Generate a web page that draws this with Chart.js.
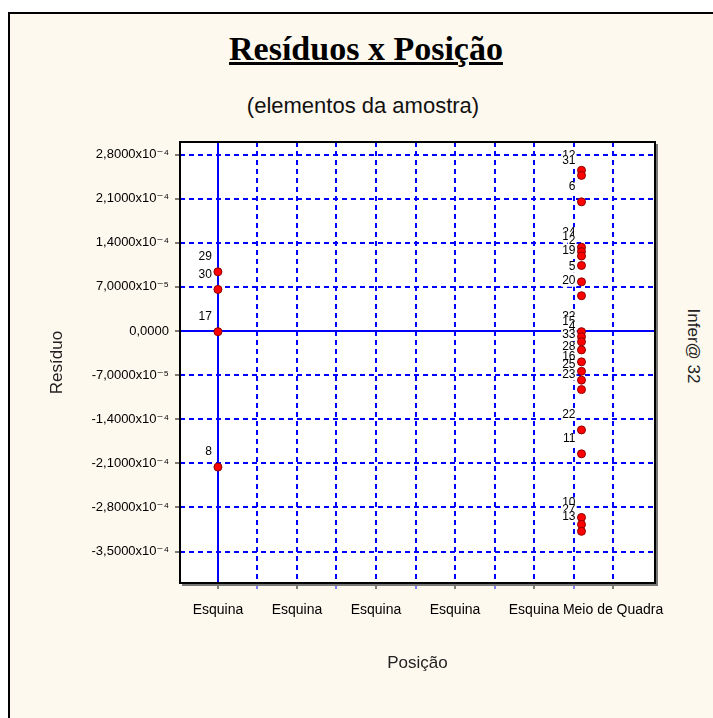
<!DOCTYPE html>
<html lang="pt-BR">
<head>
<meta charset="utf-8">
<title>Resíduos x Posição</title>
<script src="https://cdn.jsdelivr.net/npm/chart.js@4.4.1/dist/chart.umd.min.js"></script>
<style>
    html, body { margin: 0; padding: 0; background: #fff; }
    body { width: 713px; height: 718px; position: relative; overflow: hidden; font-family: Arial, 'Liberation Sans', sans-serif; }
    #moldura { position: absolute; left: 8px; top: 12px; width: 730px; height: 730px; background: #fef9ee; border-left: 2px solid #000; border-top: 2px solid #000; }
    #titulo { position: absolute; left: 0; width: 732px; top: 30px; text-align: center; font: bold 34px 'Liberation Serif', 'Times New Roman', serif; text-decoration: underline; }
    #subtitulo { position: absolute; left: 0; width: 726px; top: 93px; text-align: center; font-size: 22px; color: #111; }
    #lateral { position: absolute; left: 693px; top: 346px; transform: translate(-50%, -50%) rotate(90deg); font-size: 17px; color: #222; white-space: nowrap; }
    #grafico { position: absolute; left: 0; top: 0; }
</style>
</head>
<body>
<div id="moldura"></div>
<div id="titulo">Resíduos x Posição</div>
<div id="subtitulo">(elementos da amostra)</div>
<div id="lateral">Infer@ 32</div>
<canvas id="grafico" width="713" height="718"></canvas>

<script>
// categorias do eixo X (uma por marca inteira)
const categorias = ['Esquina', 'Esquina', 'Esquina', 'Esquina', 'Esquina', 'Meio de Quadra'];

// marcas e rótulos do eixo Y
const ticksY = [2.8e-4, 2.1e-4, 1.4e-4, 7e-5, 0, -7e-5, -1.4e-4, -2.1e-4, -2.8e-4, -3.5e-4];
const rotulosY = ['2,8000x10⁻⁴', '2,1000x10⁻⁴', '1,4000x10⁻⁴', '7,0000x10⁻⁵', '0,0000',
                  '-7,0000x10⁻⁵', '-1,4000x10⁻⁴', '-2,1000x10⁻⁴', '-2,8000x10⁻⁴', '-3,5000x10⁻⁴'];

// elementos da amostra
const elementos = ['29', '30', '17', '8',
                   '12', '31', '6', '24', '14', '2', '19', '5', '20',
                   '32', '15', '4', '33', '28', '16', '25', '23', '22', '11', '10', '27', '13'];
const posicao = [0, 0, 0, 0,
                 4.6, 4.6, 4.6, 4.6, 4.6, 4.6, 4.6, 4.6, 4.6,
                 4.6, 4.6, 4.6, 4.6, 4.6, 4.6, 4.6, 4.6, 4.6, 4.6, 4.6, 4.6, 4.6];
const residuos = [9.4e-5, 6.6e-5, -1e-6, -2.16e-4,
                  2.55e-4, 2.47e-4, 2.05e-4, 1.33e-4, 1.26e-4, 1.19e-4, 1.04e-4, 7.8e-5, 5.6e-5,
                  -1e-6, -9e-6, -1.7e-5, -3.0e-5, -4.9e-5, -6.4e-5, -7.8e-5, -9.3e-5,
                  -1.57e-4, -1.95e-4, -2.96e-4, -3.07e-4, -3.18e-4];

document.addEventListener('DOMContentLoaded', function() {
    iniciarGrafico();
});

// fundo branco e moldura da área de plotagem
const moldura = {
    id: 'moldura',
    beforeDraw(chart) {
        const a = chart.chartArea, ctx = chart.ctx;
        ctx.save();
        ctx.fillStyle = '#ffffff';
        ctx.fillRect(a.left, a.top, a.right - a.left, a.bottom - a.top);
        ctx.restore();
    },
    afterDraw(chart) {
        const a = chart.chartArea, ctx = chart.ctx;
        ctx.save();
        ctx.strokeStyle = '#000';
        ctx.lineWidth = 2;
        ctx.strokeRect(a.left, a.top, a.right - a.left, a.bottom - a.top);
        ctx.strokeStyle = '#777';
        ctx.beginPath();
        ctx.moveTo(a.right + 2, a.top + 2);
        ctx.lineTo(a.right + 2, a.bottom + 2);
        ctx.lineTo(a.left + 2, a.bottom + 2);
        ctx.stroke();
        ctx.restore();
    }
};

// número do elemento acima e à esquerda de cada ponto
const rotulos = {
    id: 'rotulos',
    beforeDatasetsDraw(chart) {
        const ctx = chart.ctx;
        const pontos = chart.getDatasetMeta(0).data;
        ctx.save();
        ctx.font = '12px Arial, "Liberation Sans", sans-serif';
        ctx.textAlign = 'right';
        ctx.textBaseline = 'middle';
        pontos.forEach((p, i) => {
            const txt = elementos[i];
            const w = ctx.measureText(txt).width;
            const x = p.x - 6, y = p.y - 15;
            ctx.fillStyle = '#ffffff';
            ctx.fillRect(x - w - 1, y - 5, w + 2, 11);
            ctx.fillStyle = '#000';
            ctx.fillText(txt, x, y);
        });
        ctx.restore();
    }
};

function iniciarGrafico() {
    const ctx = document.getElementById('grafico').getContext('2d');
    new Chart(ctx, {
        type: 'scatter',
        data: {
            datasets: [{
                label: 'Resíduo',
                data: posicao.map((x, i) => ({ x: x, y: residuos[i] })),
                backgroundColor: '#ff0000',
                borderColor: '#8b0000',
                borderWidth: 1,
                pointRadius: 4,
                pointHoverRadius: 4
            }]
        },
        options: {
            responsive: false,
            animation: false,
            layout: { padding: { left: 47, top: 142, right: 58, bottom: 44 } },
            plugins: {
                legend: { display: false },
                tooltip: { enabled: false }
            },
            scales: {
                x: {
                    type: 'linear',
                    min: -0.48,
                    max: 5.53,
                    afterBuildTicks: scale => {
                        scale.ticks = [];
                        for (let i = 0; i <= 10; i++) scale.ticks.push({ value: i / 2 });
                    },
                    afterFit: scale => { scale.height = 91; },
                    ticks: {
                        autoSkip: false,
                        maxRotation: 0,
                        padding: 13,
                        color: '#000',
                        font: { family: 'Arial, "Liberation Sans", sans-serif', size: 14 },
                        callback: v => Number.isInteger(v) ? categorias[v] : ''
                    },
                    grid: {
                        color: '#0000ff',
                        lineWidth: 2,
                        tickLength: 6,
                        tickWidth: 1,
                        tickColor: c => Number.isInteger(c.tick.value) ? '#000' : '#0000ff'
                    },
                    border: {
                        display: false,
                        dash: c => c.tick && c.tick.value === 0 ? [] : [5, 4]
                    },
                    title: {
                        display: true,
                        text: 'Posição',
                        color: '#222',
                        padding: 0,
                        font: { family: 'Arial, "Liberation Sans", sans-serif', size: 17 }
                    }
                },
                y: {
                    min: -4e-4,
                    max: 3e-4,
                    afterBuildTicks: scale => {
                        scale.ticks = ticksY.map(v => ({ value: v }));
                    },
                    afterFit: scale => { scale.width = 133; },
                    ticks: {
                        padding: 6,
                        color: '#000',
                        font: { family: 'Arial, "DejaVu Sans", sans-serif', size: 13 },
                        callback: (v, i) => rotulosY[i]
                    },
                    grid: {
                        color: '#0000ff',
                        lineWidth: 2,
                        tickLength: 5,
                        tickWidth: 1,
                        tickColor: '#000'
                    },
                    border: {
                        display: false,
                        dash: c => c.tick && c.tick.value === 0 ? [] : [5, 4]
                    },
                    title: {
                        display: true,
                        text: 'Resíduo',
                        color: '#222',
                        padding: 0,
                        font: { family: 'Arial, "Liberation Sans", sans-serif', size: 17 }
                    }
                }
            }
        },
        plugins: [moldura, rotulos]
    });
}
</script>
</body>
</html>
